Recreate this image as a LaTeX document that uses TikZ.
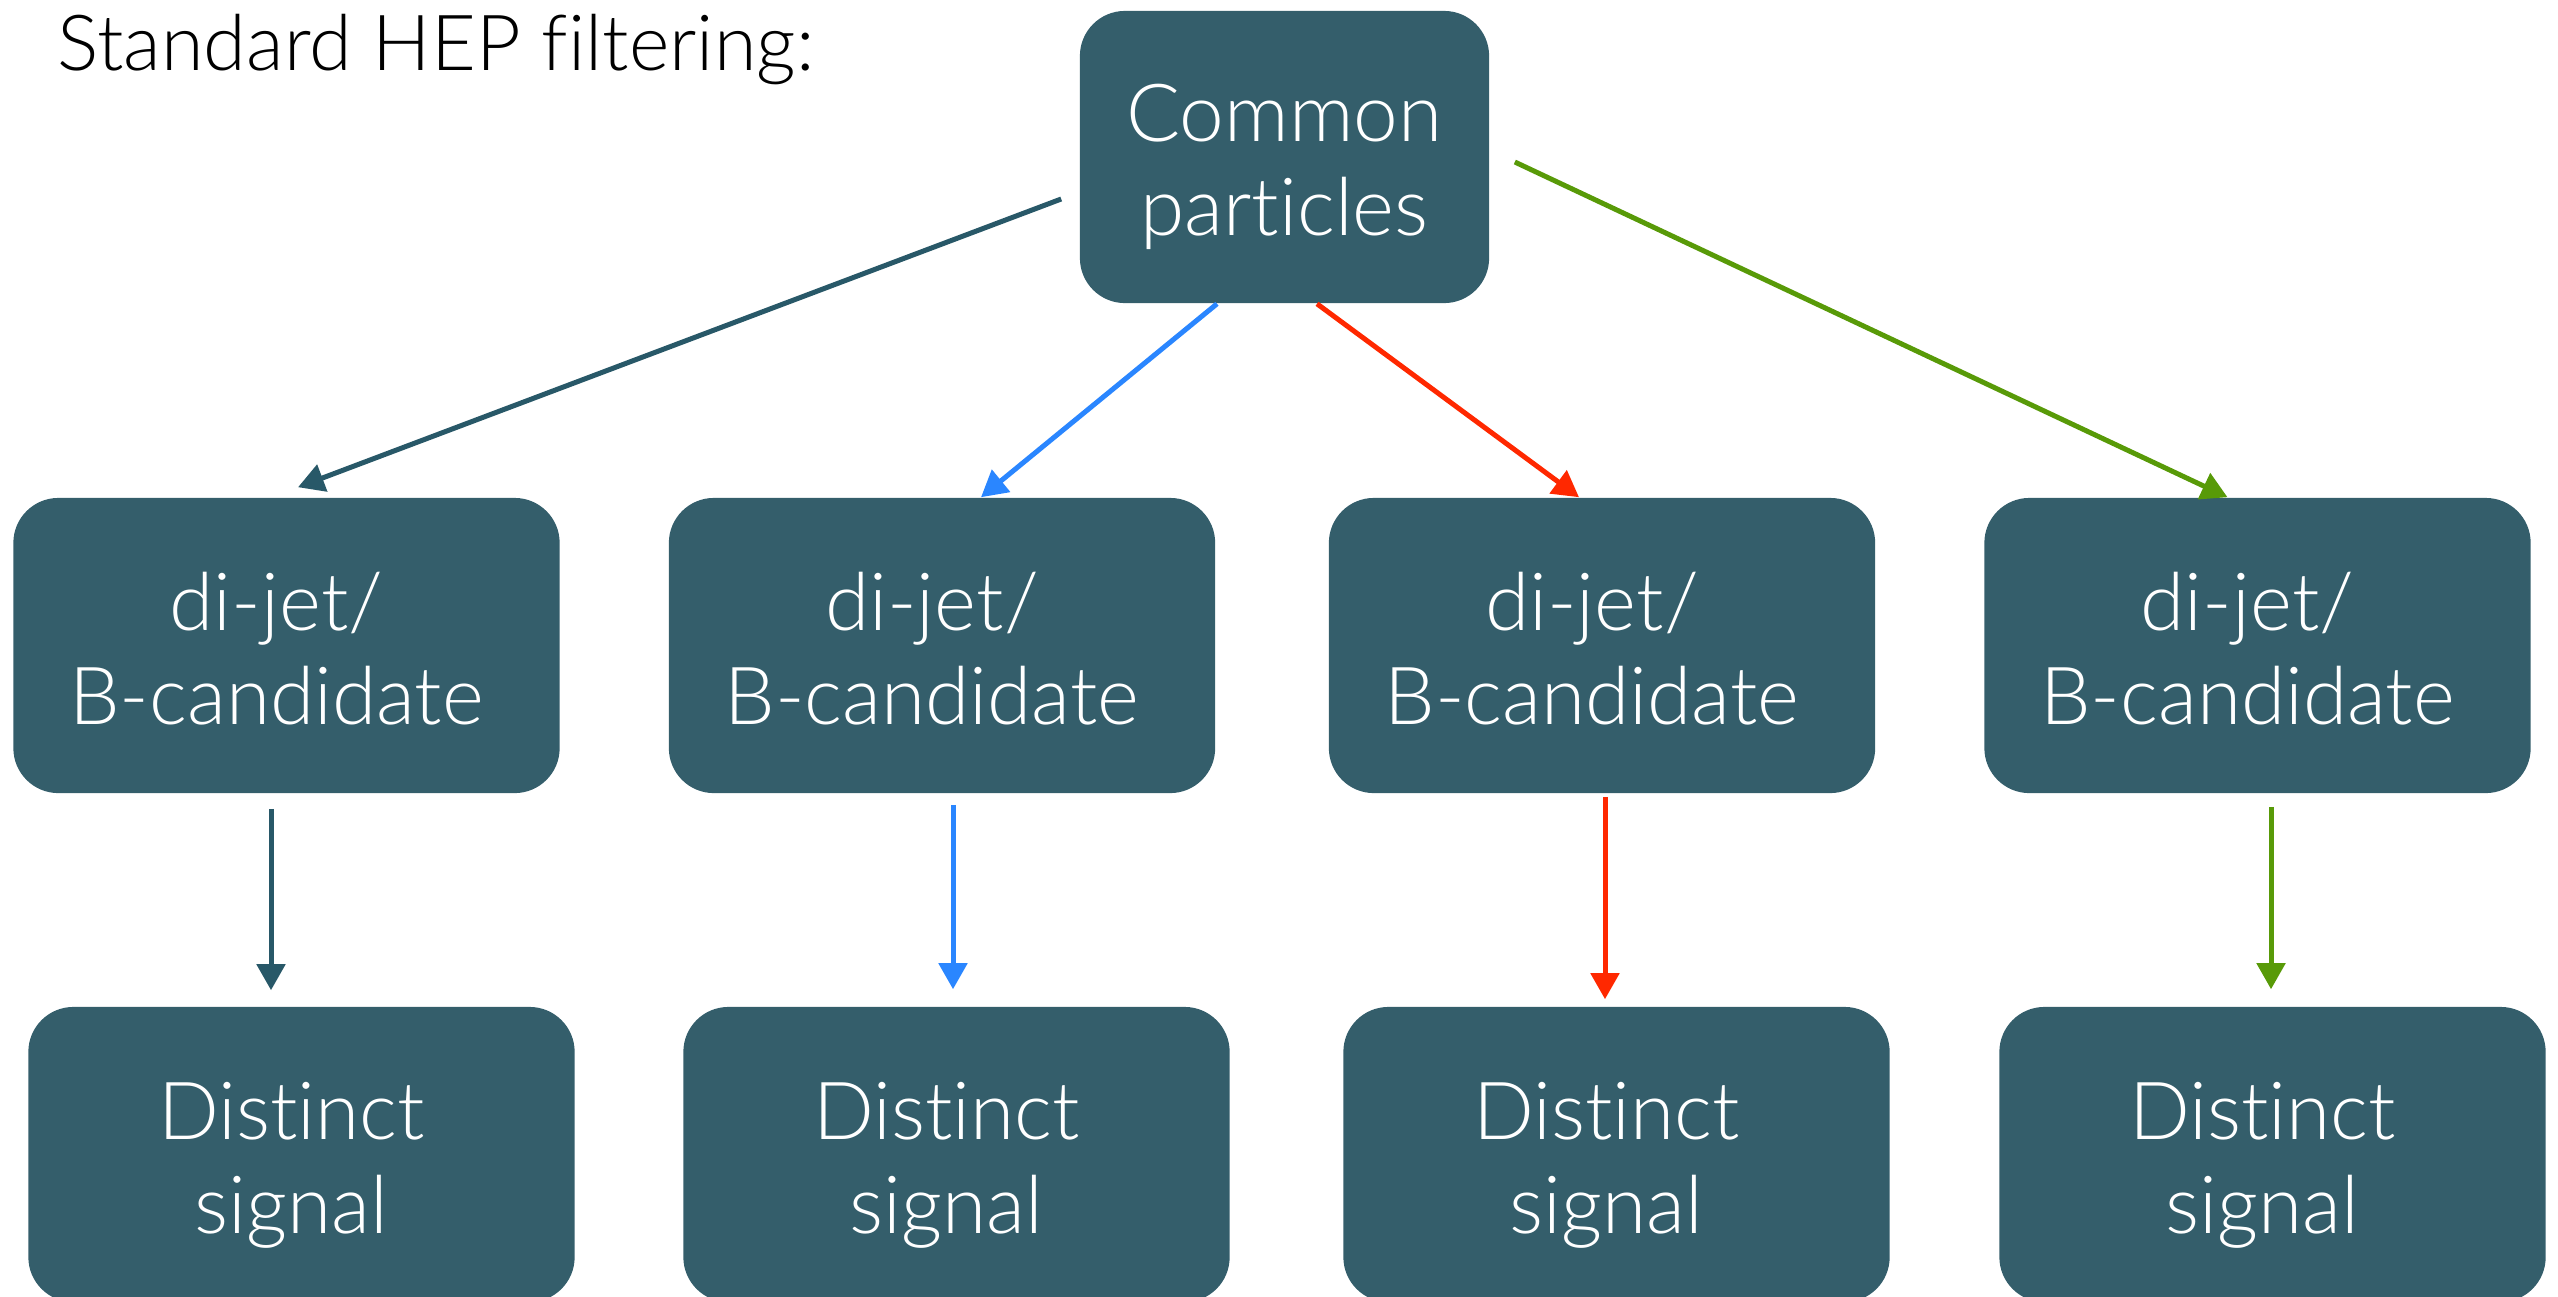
\documentclass[tikz,border=0pt]{standalone}
\usepackage{fontspec}
\IfFontExistsTF{Lato Light}
  {\setmainfont{Lato Light}[Ligatures=NoCommon]}
  {\setmainfont{TeX Gyre Heros}}
\usetikzlibrary{arrows.meta,calc}
\definecolor{boxfill}{RGB}{52,94,107}
\definecolor{arrteal}{RGB}{40,88,104}
\definecolor{arrblue}{RGB}{42,134,255}
\definecolor{arrred}{RGB}{255,40,0}
\definecolor{arrgreen}{RGB}{88,154,8}

\begin{document}
\begin{tikzpicture}[x=0.01cm,y=-0.01cm,
  box/.style={fill=boxfill, rounded corners=0.45cm, inner sep=0pt,
    minimum width=5.46cm, minimum height=2.95cm},
  boxtext/.style={text=white, align=center, inner sep=0pt, text depth=0pt,
    yshift=-0.03cm, font=\fontsize{22.8pt}{26.7pt}\selectfont},
  inside/.style={label={[boxtext, xshift=-0.1cm]center:{#1}}},
  insidemid/.style={label={[boxtext]center:{#1}}},
  link/.style={line width=0.05cm, -{Triangle[length=2.6mm,width=2.8mm]}},
]
\useasboundingbox (0,0) rectangle (2558,1296);

% heading
\node[anchor=base west, inner sep=0pt, font=\fontsize{22pt}{26pt}\selectfont]
  (title) at (57,70) {Standard HEP filtering:};

% source
\node[box, minimum width=4.09cm, minimum height=2.92cm,
  insidemid={Common\\particles}] (common) at (1284.5,157) {};

% candidate row
\node[box, inside={di-jet/\\B-candidate}] (mid1) at (286.5,645.5)  {};
\node[box, inside={di-jet/\\B-candidate}] (mid2) at (942,645.5)    {};
\node[box, inside={di-jet/\\B-candidate}] (mid3) at (1602,645.5)   {};
\node[box, inside={di-jet/\\B-candidate}] (mid4) at (2257.5,645.5) {};

% signal row
\node[box, inside={Distinct\\signal}] (bot1) at (301.5,1154.5)  {};
\node[box, inside={Distinct\\signal}] (bot2) at (956.5,1154.5)  {};
\node[box, inside={Distinct\\signal}] (bot3) at (1616.5,1154.5) {};
\node[box, inside={Distinct\\signal}] (bot4) at (2272.5,1154.5) {};

% fan-out from the source
\draw[link, arrteal]  ($(common.west)+(-18,42)$)   -- ($(mid1.north)+(11.5,-10)$);
\draw[link, arrblue]  ($(common.south)+(-67.5,0)$) -- ($(mid2.north)+(39,0)$);
\draw[link, arrred]   ($(common.south)+(32.5,0)$)  -- ($(mid3.north)+(-23,0)$);
\draw[link, arrgreen] ($(common.east)+(25,5)$)     -- ($(mid4.north)+(-30,0)$);

% candidate to signal
\draw[link, arrteal]  ($(mid1.south)+(-15.5,15)$) coordinate (v1) -- ($(v1 |- bot1.north)+(0,-16)$);
\draw[link, arrblue]  ($(mid2.south)+(11,11)$)    coordinate (v2) -- ($(v2 |- bot2.north)+(0,-17)$);
\draw[link, arrred]   ($(mid3.south)+(3,3)$)      coordinate (v3) -- ($(v3 |- bot3.north)+(0,-7)$);
\draw[link, arrgreen] ($(mid4.south)+(13.5,13)$)  coordinate (v4) -- ($(v4 |- bot4.north)+(0,-17)$);
\end{tikzpicture}
\end{document}
